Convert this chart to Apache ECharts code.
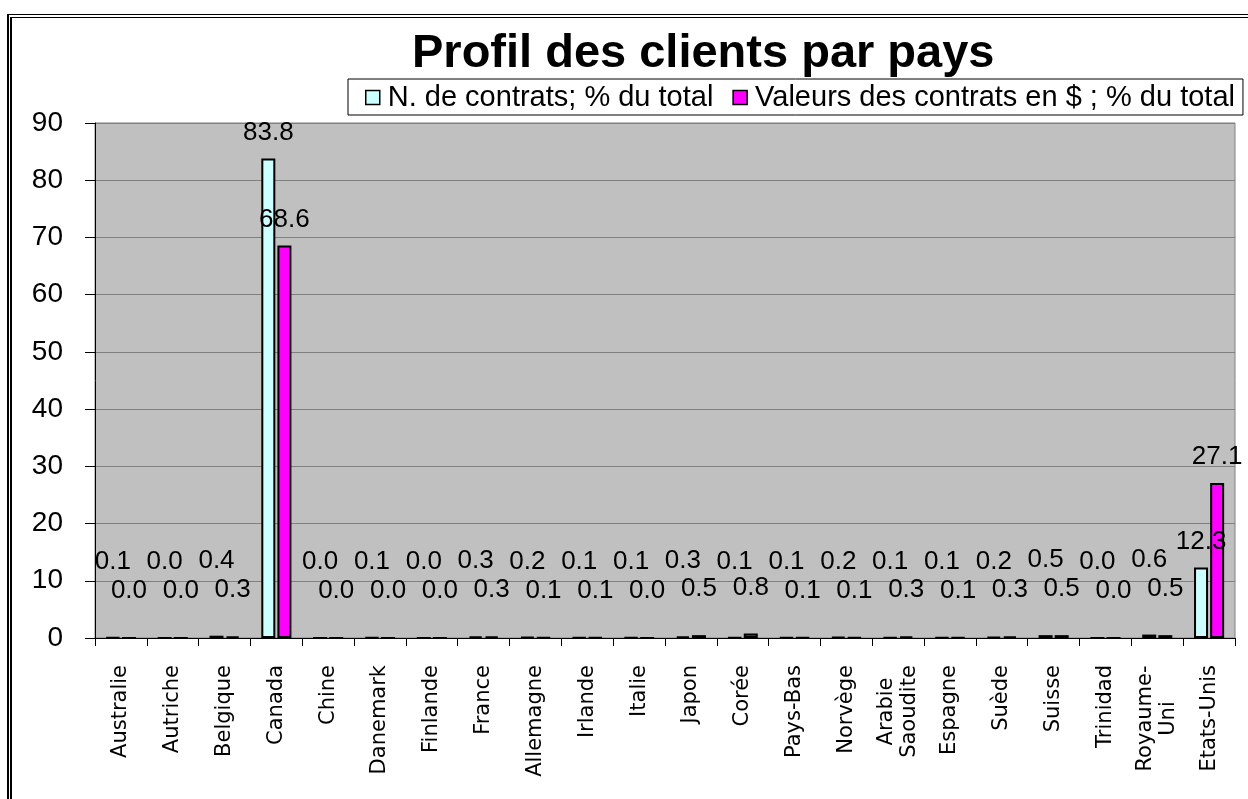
<!DOCTYPE html>
<html>
<head>
<meta charset="utf-8">
<script src="https://cdn.jsdelivr.net/npm/echarts@6/dist/echarts.min.js"></script>
<style>
  html, body { margin: 0; padding: 0; background: #fff; }
  #chart { width: 1248px; height: 799px; }
  #frame { position: absolute; left: 7px; top: 14px; width: 1300px; height: 900px;
           border-left: 5px double #000; border-top: 4px double #000; pointer-events: none; box-sizing: border-box; }
</style>
</head>
<body>
<div id="chart"></div>
<div id="frame"></div>
<script>
const titleText = 'Profil des clients par pays';
const categories = ['Australie', 'Autriche', 'Belgique', 'Canada', 'Chine', 'Danemark', 'Finlande', 'France',
  'Allemagne', 'Irlande', 'Italie', 'Japon', 'Corée', 'Pays-Bas', 'Norvège', 'Arabie\nSaoudite', 'Espagne',
  'Suède', 'Suisse', 'Trinidad', 'Royaume-\nUni', 'Etats-Unis'];
const seriesNames = ['N. de contrats; % du total', 'Valeurs des contrats en $ ; % du total'];
const contrats = [0.1, 0.0, 0.4, 83.8, 0.0, 0.1, 0.0, 0.3, 0.2, 0.1, 0.1, 0.3, 0.1, 0.1, 0.2, 0.1, 0.1, 0.2, 0.5, 0.0, 0.6, 12.3];
const valeurs  = [0.0, 0.0, 0.3, 68.6, 0.0, 0.0, 0.0, 0.3, 0.1, 0.1, 0.0, 0.5, 0.8, 0.1, 0.1, 0.3, 0.1, 0.3, 0.5, 0.0, 0.5, 27.1];
const yTicks = { min: 0, max: 90, interval: 10 };

const chart = echarts.init(document.getElementById('chart'), null, { renderer: 'canvas' });

// measure multi-line labels so their lines can be centred within a common width
const mctx = document.createElement('canvas').getContext('2d');
mctx.font = '21px "DejaVu Sans"';
const rich = {};
categories.forEach((c, i) => {
  if (c.indexOf('\n') >= 0) {
    const w = Math.max(...c.split('\n').map(s => mctx.measureText(s).width));
    rich['m' + i] = { width: Math.ceil(w), align: 'center', fontSize: 21, fontFamily: 'DejaVu Sans', color: '#000', lineHeight: 23 };
  }
});

function mkData(vals, smallDist) {
  return vals.map(v => v < 1 ? { value: v, label: { distance: smallDist } } : { value: v });
}

const barStyle = (color) => ({ color: color, borderColor: '#000', borderWidth: 2 });
const labelStyle = {
  show: true, position: 'top', verticalAlign: 'middle', distance: 26,
  fontFamily: 'Liberation Sans, Arial', fontSize: 26, color: '#000',
  formatter: p => p.value.toFixed(1)
};

chart.setOption({
  backgroundColor: '#fff',
  animation: false,
  title: {
    text: titleText, left: 412, top: 31, padding: 0,
    textStyle: { fontFamily: 'Liberation Sans, Arial', fontWeight: 'bold', fontSize: 47, color: '#000' }
  },
  legend: {
    left: 348, top: 79, padding: [4, 8, 3, 17],
    itemWidth: 14, itemHeight: 14, itemGap: 19,
    borderColor: '#000', borderWidth: 1, backgroundColor: '#fff',
    icon: 'rect',
    itemStyle: { borderColor: '#000', borderWidth: 1.5 },
    textStyle: { fontFamily: 'Liberation Sans, Arial', fontSize: 29, color: '#000', padding: [0, 0, 0, 3] },
    data: seriesNames
  },
  grid: {
    left: 95, right: 13, top: 123, bottom: 161,
    show: true, backgroundColor: '#C0C0C0', borderColor: '#808080', borderWidth: 1
  },
  xAxis: {
    type: 'category', data: categories,
    axisLine: { lineStyle: { color: '#000', width: 1 } },
    axisTick: { show: true, length: 8, lineStyle: { color: '#000' } },
    axisLabel: {
      interval: 0, rotate: 90, margin: 27,
      fontFamily: 'DejaVu Sans', fontSize: 21, color: '#000', lineHeight: 23,
      rich: rich,
      formatter: (v, i) => rich['m' + i] ? v.split('\n').map(s => '{m' + i + '|' + s + '}').join('\n') : v
    }
  },
  yAxis: {
    type: 'value', min: yTicks.min, max: yTicks.max, interval: yTicks.interval,
    axisLine: { show: true, lineStyle: { color: '#000', width: 1 } },
    axisTick: { show: true, length: 10, lineStyle: { color: '#000' } },
    axisLabel: { margin: 32, fontFamily: 'Liberation Sans, Arial', fontSize: 28, color: '#000' },
    splitLine: { lineStyle: { color: '#808080', width: 1 } }
  },
  series: [
    { name: seriesNames[0], type: 'bar', data: mkData(contrats, 75), barWidth: 14, barGap: '15%',
      itemStyle: barStyle('#CCFFFF'), label: labelStyle },
    { name: seriesNames[1], type: 'bar', data: mkData(valeurs, 46), barWidth: 14, barGap: '15%',
      itemStyle: barStyle('#FF00FF'), label: labelStyle }
  ]
});
</script>
</body>
</html>
